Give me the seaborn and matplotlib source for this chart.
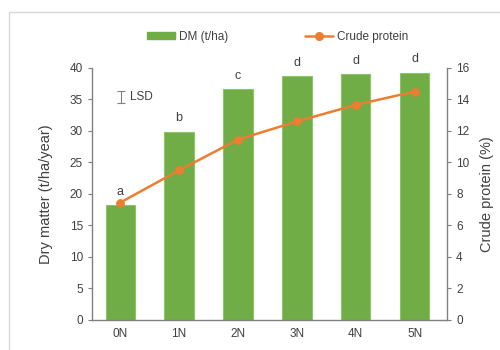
import numpy as np
import matplotlib
matplotlib.use("Agg")
import matplotlib.pyplot as plt
import seaborn as sns
from matplotlib.patches import Rectangle, Patch
from matplotlib.lines import Line2D

# data
treatments = ['0N', '1N', '2N', '3N', '4N', '5N']
dry_matter = [18.2, 29.9, 36.6, 38.7, 39.0, 39.2]
crude_protein = [7.45, 9.5, 11.45, 12.6, 13.65, 14.5]
sig_letters = ['a', 'b', 'c', 'd', 'd', 'd']
lsd_center = 35.4
lsd_half = 0.95

green = '#70AD47'
orange = '#ED7D31'
grey = '#808080'
txt = '#404040'

sns.set_style('white')
plt.rcParams['font.family'] = ['Liberation Sans', 'DejaVu Sans']

fig = plt.figure(figsize=(5, 3.5), dpi=100)
ax = fig.add_axes([0.184, 0.086, 0.71, 0.72])

# outer frame (partly cut off at right/bottom)
fig.patches.append(Rectangle((0.018, -0.05), 1.1, 1.016, transform=fig.transFigure,
                             fill=False, edgecolor='#d9d9d9', linewidth=1.0))

sns.barplot(x=treatments, y=dry_matter, ax=ax, color=green, width=0.5,
            edgecolor='#8cc46a', linewidth=0.8, saturation=1)
ax.set_ylim(0, 40)
ax.set_xlim(-0.48, 5.55)
ax.set_yticks(range(0, 41, 5))
ax.set_ylabel('Dry matter (t/ha/year)', fontsize=10.5, color=txt, labelpad=12)
ax.set_xlabel('')

for i, (v, s) in enumerate(zip(dry_matter, sig_letters)):
    ax.text(i, v + 1.2, s, ha='center', va='bottom', fontsize=9, color=txt)

ax.errorbar([0.02], [lsd_center], yerr=[lsd_half], color=grey, capsize=3,
            linewidth=0.8, capthick=0.8)
ax.text(0.17, lsd_center, 'LSD', va='center', ha='left', fontsize=8.5, color=txt)

ax2 = ax.twinx()
sns.lineplot(x=np.arange(len(treatments)), y=crude_protein, ax=ax2, color=orange,
             marker='o', markersize=5.5, markeredgecolor=orange, linewidth=1.8)
ax2.set_ylim(0, 16)
ax2.set_yticks(range(0, 17, 2))
ax2.set_ylabel('Crude protein (%)', fontsize=10.5, color=txt, labelpad=8)

for a in (ax, ax2):
    a.spines['top'].set_visible(False)
    for sp in ('left', 'right', 'bottom'):
        a.spines[sp].set_color(grey)
        a.spines[sp].set_linewidth(1.0)
    a.tick_params(axis='both', labelsize=8.5, colors=txt, length=3, width=0.8,
                  direction='out')
    a.tick_params(axis='both', color=grey)
    a.grid(False)
ax.tick_params(axis='x', length=0, pad=6)
ax.spines['right'].set_visible(False)
ax2.spines['left'].set_visible(False)
ax2.spines['bottom'].set_visible(False)

handles = [Patch(facecolor=green, edgecolor=green),
           Line2D([], [], color=orange, marker='o', markersize=5.5, linewidth=1.8)]
fig.legend(handles, ['DM (t/ha)', 'Crude protein'], loc='center',
           bbox_to_anchor=(0.555, 0.895), ncol=2, frameon=False, fontsize=8.5,
           handlelength=2.4, handleheight=0.6, columnspacing=6.5, handletextpad=0.3,
           labelcolor=txt)

fig.savefig('out.png', dpi=100)
